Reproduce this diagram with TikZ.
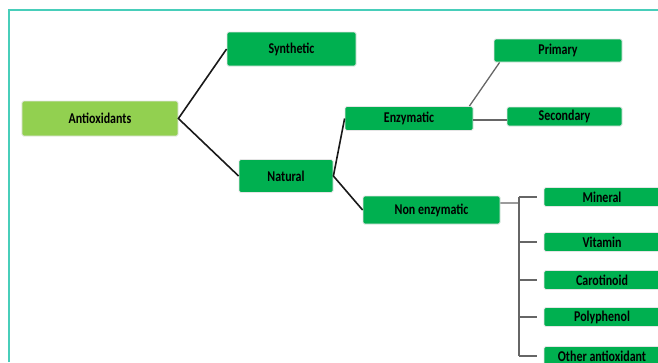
\documentclass[tikz,border=0pt]{standalone}
\usepackage{fontspec}
\setmainfont{Carlito}[FakeStretch=0.8]
\definecolor{darkgreen}{RGB}{0,176,80}
\definecolor{lightgreen}{RGB}{146,208,80}
\definecolor{frameline}{RGB}{72,206,186}

\begin{document}
\begin{tikzpicture}[x=1bp, y=1bp,
  box/.style={fill=darkgreen, draw=black!10, line width=0.8bp, rounded corners=1.5bp,
    inner sep=0pt, font=\fontsize{15}{15}\selectfont\bfseries},
  leaf/.style={box, minimum width=116bp, minimum height=19bp},
  main/.style={line width=1.6bp, black!90},
  sub/.style={line width=1.3bp, black!60}]
\useasboundingbox (0,0) rectangle (658,-362);
\clip (0,0) rectangle (658,-362);

\draw[frameline, line width=1.5bp] (9,-362) -- (9,-10) -- (658,-10);

\node[box, fill=lightgreen, minimum width=156bp, minimum height=35bp] (anti) at (100,-118.5) {Antioxidants};
\node[box, minimum width=129bp, minimum height=34bp] (syn) at (291.5,-49) {Synthetic};
\node[box, minimum width=94bp, minimum height=33bp] (nat) at (286,-176) {Natural};
\node[box, minimum width=128bp, minimum height=24bp] (enz) at (409,-118.5) {Enzymatic};
\node[box, minimum width=128bp, minimum height=23bp] (prim) at (558,-50.5) {Primary};
\node[box, minimum width=115bp, minimum height=19bp] (sec) at (564.5,-116.5) {Secondary};
\node[box, minimum width=137bp, minimum height=28bp] (nonenz) at (431.5,-210) {Non enzymatic};

\node[leaf] (mineral) at (602,-197) {Mineral};
\node[leaf] (vitamin) at (602,-242) {Vitamin};
\node[leaf] (carot) at (602,-280) {Carotinoid};
\node[leaf] (poly) at (602,-317) {Polyphenol};
\node[leaf] (other) at (602,-356) {Other antioxidant};

\draw[main] (syn.west) -- (anti.east) -- (nat.west);
\draw[main] (enz.west) -- (nat.east) -- (nonenz.west);
\draw[sub] ([xshift=-4bp]enz.north east) -- ([xshift=6bp]prim.south west);
\draw[sub] ([yshift=-1.5bp]enz.east) -- ([yshift=-1.5bp]enz.east -| sec.west);

\path (519,-203) coordinate (bus);
\draw[sub] ([yshift=7bp]nonenz.east) -- (bus);
\draw[sub] (bus |- mineral.west) -- (bus |- other.west);
\foreach \n in {mineral,vitamin,carot,poly,other}
  \draw[sub] (bus |- \n.west) -- ([xshift=-7bp]\n.west);
\end{tikzpicture}
\end{document}
